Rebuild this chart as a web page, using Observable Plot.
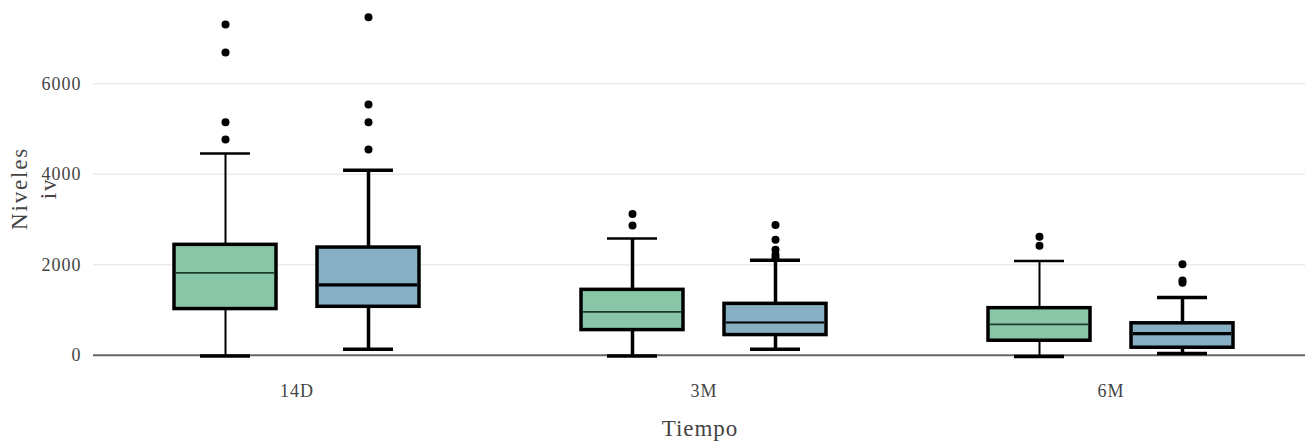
<!DOCTYPE html>
<html><head><meta charset="utf-8">
<script src="https://cdn.jsdelivr.net/npm/d3@7"></script>
<script src="https://cdn.jsdelivr.net/npm/@observablehq/plot@0.6"></script>
<style>
body{margin:0;background:#fff}
#chart svg{font-family:"Liberation Serif",serif}
</style>
</head><body><div id="chart"></div>
<script>
// Categories
const tiempos = ["14D", "3M", "6M"];
const grupos = ["Grupo 1", "Grupo 2"];
const yTicks = [0, 2000, 4000, 6000];

// Box summaries (one per box)
const boxTiempo = ["14D", "14D", "3M", "3M", "6M", "6M"];
const boxGrupo  = ["Grupo 1", "Grupo 2", "Grupo 1", "Grupo 2", "Grupo 1", "Grupo 2"];
const whiskerLow  = [-20, 130, -20, 130, -30, 40];
const q1          = [1020, 1070, 555, 445, 320, 165];
const mediana     = [1820, 1555, 960, 725, 680, 475];
const q3          = [2440, 2380, 1445, 1135, 1040, 705];
const whiskerHigh = [4460, 4090, 2580, 2100, 2080, 1275];

// Outliers
const outTiempo = ["14D","14D","14D","14D", "14D","14D","14D","14D",
                   "3M","3M", "3M","3M","3M","3M","3M",
                   "6M","6M", "6M","6M","6M"];
const outGrupo  = ["Grupo 1","Grupo 1","Grupo 1","Grupo 1", "Grupo 2","Grupo 2","Grupo 2","Grupo 2",
                   "Grupo 1","Grupo 1", "Grupo 2","Grupo 2","Grupo 2","Grupo 2","Grupo 2",
                   "Grupo 1","Grupo 1", "Grupo 2","Grupo 2","Grupo 2"];
const outValor  = [7310, 6690, 5150, 4770, 7470, 5540, 5150, 4550,
                   3120, 2870, 2880, 2550, 2330, 2220, 2150,
                   2620, 2420, 2010, 1650, 1600];

const boxes = boxTiempo.map((t, i) => ({
  tiempo: t, grupo: boxGrupo[i], low: whiskerLow[i], q1: q1[i],
  med: mediana[i], q3: q3[i], high: whiskerHigh[i]
}));
const outliers = outTiempo.map((t, i) => ({tiempo: t, grupo: outGrupo[i], valor: outValor[i]}));

const chart = Plot.plot({
  width: 1305,
  height: 443,
  marginLeft: 92,
  marginRight: -9,
  marginTop: 10,
  marginBottom: 85,
  style: {fontFamily: "Liberation Serif", fontSize: "18px", letterSpacing: "1px", background: "#fff"},
  fx: {domain: tiempos, padding: 0, label: null, axis: null},
  x: {domain: grupos, paddingInner: 0.287, paddingOuter: 0.56, axis: null},
  y: {domain: [-73, 7621], axis: null},
  color: {domain: grupos, range: ["#88c6a7", "#87afc4"]},
  marks: [
    Plot.ruleY(yTicks.filter(d => d > 0), {stroke: "#ebebeb", strokeWidth: 1.5}),
    Plot.ruleY([0], {stroke: "#666", strokeWidth: 2}),
    Plot.ruleX(boxes, {fx: "tiempo", x: "grupo", y1: "low", y2: "high", stroke: "#000",
      strokeWidth: d => d.grupo === "Grupo 1" && d.tiempo !== "3M" ? 2 : 3.5}),
    Plot.tickY(boxes, {fx: "tiempo", x: "grupo", y: "low", stroke: "#000", strokeWidth: 3.5, insetLeft: 26, insetRight: 26}),
    Plot.tickY(boxes, {fx: "tiempo", x: "grupo", y: "high", stroke: "#000",
      strokeWidth: d => d.grupo === "Grupo 1" ? 2.5 : 3.5, insetLeft: 26, insetRight: 26}),
    Plot.barY(boxes, {fx: "tiempo", x: "grupo", y1: "q1", y2: "q3", fill: "grupo", stroke: "#000", strokeWidth: 3.5}),
    Plot.tickY(boxes, {fx: "tiempo", x: "grupo", y: "med", stroke: d => d.grupo === "Grupo 1" ? "#1d3b2c" : "#000",
      strokeWidth: d => d.grupo === "Grupo 1" ? 1.8 : (d.tiempo === "3M" ? 2 : 3.2), insetLeft: 2, insetRight: 2}),
    Plot.dot(outliers, {fx: "tiempo", x: "grupo", y: "valor", r: 4, fill: "#000"}),
    Plot.axisY({ticks: yTicks, tickFormat: d => String(d), tickSize: 0, tickPadding: 12, label: null, color: "#444", fontSize: 18}),
    Plot.axisFx({anchor: "bottom", tickSize: 0, tickPadding: 26, label: null, color: "#444", fontSize: 18}),
    Plot.text(["Tiempo"], {frameAnchor: "bottom", facet: "super", dx: -4, dy: 77, fontSize: 23, fill: "#444", letterSpacing: "2px"}),
    Plot.text(["Niveles"], {frameAnchor: "left", textAnchor: "middle", facet: "super", dx: -74, dy: 4, rotate: -90, fontSize: 23, fill: "#444"}),
    Plot.text(["iv"], {frameAnchor: "left", textAnchor: "middle", facet: "super", dx: -45, dy: 4, rotate: -90, fontSize: 23, fill: "#444"})
  ]
});
chart.querySelectorAll("text").forEach(t => {
  if (t.textContent === "Niveles" || t.textContent === "iv") t.parentNode.setAttribute("letter-spacing", "1.8px");
});
document.getElementById("chart").appendChild(chart);
</script>
</body></html>
